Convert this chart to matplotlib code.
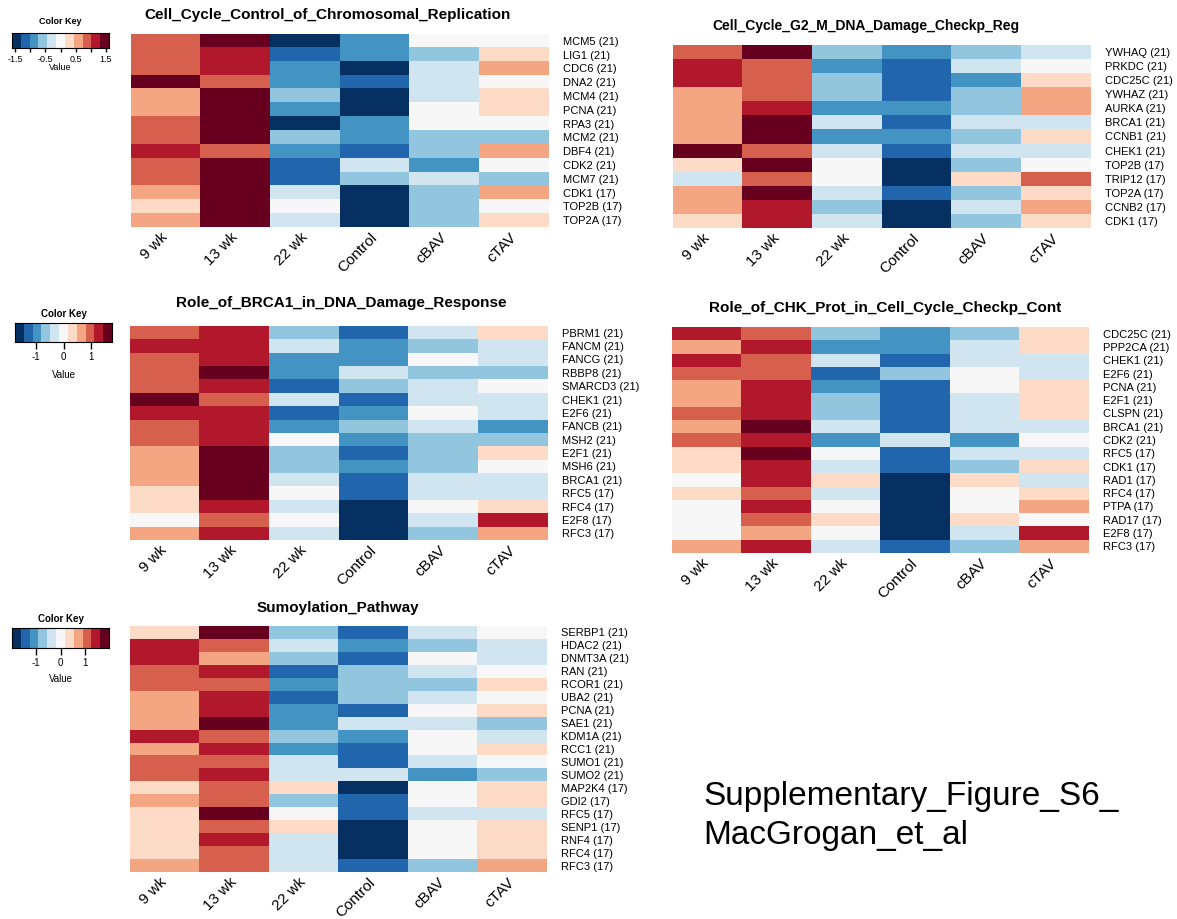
import numpy as np
import matplotlib
matplotlib.use("Agg")
import matplotlib.pyplot as plt
from matplotlib.colors import ListedColormap, BoundaryNorm

plt.rcParams['font.family'] = ['Liberation Sans', 'DejaVu Sans']

W, H = 1177, 919

columns = ["9 wk", "13 wk", "22 wk", "Control", "cBAV", "cTAV"]

# RdBu diverging, 11 classes (blue = low, red = high)
key_colors = ["#053061", "#2166ac", "#4393c3", "#92c5de", "#d1e5f0", "#f7f7f7",
              "#fddbc7", "#f4a582", "#d6604d", "#b2182b", "#67001f"]

# --- Cell_Cycle_Control_of_Chromosomal_Replication
rep_genes = ["MCM5 (21)", "LIG1 (21)", "CDC6 (21)", "DNA2 (21)", "MCM4 (21)", "PCNA (21)",
             "RPA3 (21)", "MCM2 (21)", "DBF4 (21)", "CDK2 (21)", "MCM7 (21)", "CDK1 (17)",
             "TOP2B (17)", "TOP2A (17)"]
rep_vals = [
    [0.9, 1.5, -1.5, -0.9, 0.0, 0.0],
    [0.9, 1.2, -1.2, -0.9, -0.6, 0.3],
    [0.9, 1.2, -0.9, -1.5, -0.3, 0.6],
    [1.5, 0.9, -0.9, -1.2, -0.3, 0.0],
    [0.6, 1.5, -0.6, -1.5, -0.3, 0.3],
    [0.6, 1.5, -0.9, -1.5, 0.0, 0.3],
    [0.9, 1.5, -1.5, -0.9, 0.0, 0.0],
    [0.9, 1.5, -0.6, -0.9, -0.6, -0.6],
    [1.2, 0.9, -0.9, -1.2, -0.6, 0.6],
    [0.9, 1.5, -1.2, -0.3, -0.9, 0.0],
    [0.9, 1.5, -1.2, -0.6, -0.3, -0.6],
    [0.6, 1.5, -0.3, -1.5, -0.6, 0.6],
    [0.3, 1.5, 0.0, -1.5, -0.6, 0.0],
    [0.6, 1.5, -0.3, -1.5, -0.6, 0.3],
]

# --- Cell_Cycle_G2_M_DNA_Damage_Checkp_Reg
g2m_genes = ["YWHAQ (21)", "PRKDC (21)", "CDC25C (21)", "YWHAZ (21)", "AURKA (21)", "BRCA1 (21)",
             "CCNB1 (21)", "CHEK1 (21)", "TOP2B (17)", "TRIP12 (17)", "TOP2A (17)", "CCNB2 (17)",
             "CDK1 (17)"]
g2m_vals = [
    [0.9, 1.5, -0.6, -0.9, -0.6, -0.3],
    [1.2, 0.9, -0.9, -1.2, -0.3, 0.0],
    [1.2, 0.9, -0.6, -1.2, -0.9, 0.3],
    [0.6, 0.9, -0.6, -1.2, -0.6, 0.6],
    [0.6, 1.2, -0.9, -0.9, -0.6, 0.6],
    [0.6, 1.5, -0.3, -1.2, -0.3, -0.3],
    [0.6, 1.5, -0.9, -0.9, -0.6, 0.3],
    [1.5, 0.9, -0.3, -1.2, -0.3, -0.3],
    [0.3, 1.5, 0.0, -1.5, -0.6, 0.0],
    [-0.3, 0.9, 0.0, -1.5, 0.3, 0.9],
    [0.6, 1.5, -0.3, -1.2, -0.6, 0.3],
    [0.6, 1.2, -0.6, -1.5, -0.3, 0.6],
    [0.3, 1.2, -0.3, -1.5, -0.6, 0.3],
]

# --- Role_of_BRCA1_in_DNA_Damage_Response
brca_genes = ["PBRM1 (21)", "FANCM (21)", "FANCG (21)", "RBBP8 (21)", "SMARCD3 (21)", "CHEK1 (21)",
              "E2F6 (21)", "FANCB (21)", "MSH2 (21)", "E2F1 (21)", "MSH6 (21)", "BRCA1 (21)",
              "RFC5 (17)", "RFC4 (17)", "E2F8 (17)", "RFC3 (17)"]
brca_vals = [
    [0.9, 1.2, -0.6, -1.2, -0.3, 0.3],
    [1.2, 1.2, -0.3, -0.9, -0.6, -0.3],
    [0.9, 1.2, -0.9, -0.9, 0.0, -0.3],
    [0.9, 1.5, -0.9, -0.3, -0.6, -0.6],
    [0.9, 1.2, -1.2, -0.6, -0.3, 0.0],
    [1.5, 0.9, -0.3, -1.2, -0.3, -0.3],
    [1.2, 1.2, -1.2, -0.9, 0.0, -0.3],
    [0.9, 1.2, -0.9, -0.6, -0.3, -0.9],
    [0.9, 1.2, 0.0, -0.9, -0.6, -0.6],
    [0.6, 1.5, -0.6, -1.2, -0.6, 0.3],
    [0.6, 1.5, -0.6, -0.9, -0.6, 0.0],
    [0.6, 1.5, -0.3, -1.2, -0.3, -0.3],
    [0.3, 1.5, 0.0, -1.2, -0.3, -0.3],
    [0.3, 1.2, -0.3, -1.5, 0.0, 0.3],
    [0.0, 0.9, 0.0, -1.5, -0.3, 1.2],
    [0.6, 1.2, -0.3, -1.5, -0.6, 0.6],
]

# --- Role_of_CHK_Prot_in_Cell_Cycle_Checkp_Cont
chk_genes = ["CDC25C (21)", "PPP2CA (21)", "CHEK1 (21)", "E2F6 (21)", "PCNA (21)", "E2F1 (21)",
             "CLSPN (21)", "BRCA1 (21)", "CDK2 (21)", "RFC5 (17)", "CDK1 (17)", "RAD1 (17)",
             "RFC4 (17)", "PTPA (17)", "RAD17 (17)", "E2F8 (17)", "RFC3 (17)"]
chk_vals = [
    [1.2, 0.9, -0.6, -0.9, -0.6, 0.3],
    [0.6, 1.2, -0.9, -0.9, -0.3, 0.3],
    [1.2, 0.9, -0.3, -1.2, -0.3, -0.3],
    [0.9, 0.9, -1.2, -0.6, 0.0, -0.3],
    [0.6, 1.2, -0.9, -1.2, 0.0, 0.3],
    [0.6, 1.2, -0.6, -1.2, -0.3, 0.3],
    [0.9, 1.2, -0.6, -1.2, -0.3, 0.3],
    [0.6, 1.5, -0.3, -1.2, -0.3, -0.3],
    [0.9, 1.2, -0.9, -0.3, -0.9, 0.0],
    [0.3, 1.5, 0.0, -1.2, -0.3, -0.3],
    [0.3, 1.2, -0.3, -1.2, -0.6, 0.3],
    [0.0, 1.2, 0.3, -1.5, 0.3, -0.3],
    [0.3, 0.9, -0.3, -1.5, 0.0, 0.3],
    [0.0, 1.2, 0.0, -1.5, 0.0, 0.6],
    [0.0, 0.9, 0.3, -1.5, 0.3, 0.0],
    [0.0, 0.6, 0.0, -1.5, -0.3, 1.2],
    [0.6, 1.2, -0.3, -1.2, -0.6, 0.6],
]

# --- Sumoylation_Pathway
sumo_genes = ["SERBP1 (21)", "HDAC2 (21)", "DNMT3A (21)", "RAN (21)", "RCOR1 (21)", "UBA2 (21)",
              "PCNA (21)", "SAE1 (21)", "KDM1A (21)", "RCC1 (21)", "SUMO1 (21)", "SUMO2 (21)",
              "MAP2K4 (17)", "GDI2 (17)", "RFC5 (17)", "SENP1 (17)", "RNF4 (17)", "RFC4 (17)",
              "RFC3 (17)"]
sumo_vals = [
    [0.35, 1.75, -0.7, -1.4, -0.35, 0.0],
    [1.4, 1.05, -0.35, -1.05, -0.7, -0.35],
    [1.4, 0.7, -0.7, -1.4, 0.0, -0.35],
    [1.05, 1.4, -1.4, -0.7, -0.35, 0.0],
    [1.05, 1.05, -1.05, -0.7, -0.7, 0.35],
    [0.7, 1.4, -1.4, -0.7, -0.35, 0.0],
    [0.7, 1.4, -1.05, -1.4, 0.0, 0.35],
    [0.7, 1.75, -1.05, -0.35, -0.35, -0.7],
    [1.4, 1.05, -0.7, -1.05, 0.0, -0.35],
    [0.7, 1.4, -1.05, -1.4, 0.0, 0.35],
    [1.05, 1.05, -0.35, -1.4, -0.35, 0.0],
    [1.05, 1.4, -0.35, -0.35, -1.05, -0.7],
    [0.35, 1.05, 0.35, -1.75, 0.0, 0.35],
    [0.7, 1.05, -0.7, -1.4, 0.0, 0.35],
    [0.35, 1.75, 0.0, -1.4, -0.35, -0.35],
    [0.35, 1.05, 0.35, -1.75, 0.0, 0.35],
    [0.35, 1.4, -0.35, -1.75, 0.0, 0.35],
    [0.35, 1.05, -0.35, -1.75, 0.0, 0.35],
    [0.7, 1.05, -0.35, -1.4, -0.7, 0.7],
]

cmap = ListedColormap(key_colors)

fig = plt.figure(figsize=(W / 100, H / 100), dpi=100)


def px_axes(x0, y0, x1, y1):
    return fig.add_axes([x0 / W, 1 - y1 / H, (x1 - x0) / W, (y1 - y0) / H])


def heatmap(box, vals, genes, title, title_xy, vmax, title_size=11):
    ax = px_axes(*box)
    norm = BoundaryNorm(np.linspace(-vmax, vmax, 12), cmap.N)
    ax.imshow(np.array(vals), cmap=cmap, norm=norm, aspect='auto', interpolation='nearest')
    ax.set_xticks(range(len(columns)))
    ax.set_xticklabels(columns, rotation=45, ha='right', va='center',
                       rotation_mode='anchor', fontsize=11)
    ax.set_yticks(range(len(genes)))
    ax.set_yticklabels(genes, fontsize=8)
    ax.yaxis.tick_right()
    ax.tick_params(axis='y', length=0, pad=10)
    ax.tick_params(axis='x', length=0, pad=6)
    for s in ax.spines.values():
        s.set_visible(False)
    fig.text(title_xy[0] / W, 1 - title_xy[1] / H, title, ha='center', va='center',
             fontsize=title_size, fontweight='bold')
    return ax


def color_key(box, vmax, ticks, labels, title_y, val_y, size=7, tlen=5):
    ax = px_axes(*box)
    edges = np.linspace(-vmax, vmax, 12)
    for i in range(11):
        ax.axvspan(edges[i], edges[i + 1], color=key_colors[i], lw=0)
    ax.set_xlim(-vmax, vmax)
    ax.set_ylim(0, 1)
    ax.set_yticks([])
    ax.set_xticks(ticks)
    ax.set_xticklabels(labels, fontsize=size)
    ax.tick_params(axis='x', length=tlen, width=1, pad=2)
    for s in ax.spines.values():
        s.set_linewidth(0.8)
    cx = (box[0] + box[2]) / 2
    fig.text(cx / W, 1 - title_y / H, "Color Key", ha='center', va='center',
             fontsize=size, fontweight='bold')
    fig.text(cx / W, 1 - val_y / H, "Value", ha='center', va='center', fontsize=size)
    return ax


heatmap((131, 34, 549, 227), rep_vals, rep_genes,
        "Cell_Cycle_Control_of_Chromosomal_Replication", (328, 15), 1.6)
heatmap((673, 45, 1091, 228), g2m_vals, g2m_genes,
        "Cell_Cycle_G2_M_DNA_Damage_Checkp_Reg", (866, 26), 1.6, title_size=10)
heatmap((130, 326, 548, 540), brca_vals, brca_genes,
        "Role_of_BRCA1_in_DNA_Damage_Response", (341, 303), 1.77)
heatmap((672, 327, 1089, 553), chk_vals, chk_genes,
        "Role_of_CHK_Prot_in_Cell_Cycle_Checkp_Cont", (885, 308), 1.77)
heatmap((130, 626, 547, 872), sumo_vals, sumo_genes,
        "Sumoylation_Pathway", (338, 608), 2.0)

color_key((12, 33, 109, 48), 1.6, [-1.5, -1.0, -0.5, 0, 0.5, 1.0, 1.5],
          ["-1.5", "", "-0.5", "", "0.5", "", "1.5"], 21, 68, size=6.5, tlen=3)
color_key((15, 323, 112, 342), 1.77, [-1, 0, 1], ["-1", "0", "1"], 314, 375)
color_key((12, 628, 109, 648), 2.0, [-1, 0, 1], ["-1", "0", "1"], 619, 679)

fig.text(703 / W, 1 - 816 / H, "Supplementary_Figure_S6_\nMacGrogan_et_al",
         ha='left', va='center', fontsize=24, linespacing=1.3)

fig.savefig("out.png", dpi=100, facecolor='white')
